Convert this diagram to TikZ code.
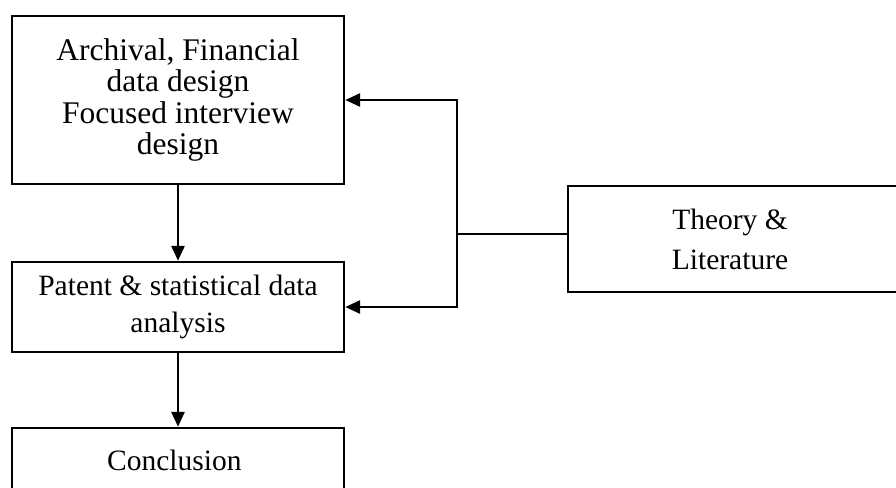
\documentclass[tikz,border=0pt]{standalone}
\usepackage{fontspec}
\setmainfont{Liberation Serif}
\usetikzlibrary{arrows.meta, positioning, calc}

\begin{document}
\begin{tikzpicture}[x=1pt, y=-1pt,
  box/.style={draw, line width=2.4pt, minimum width=332pt, align=center, inner sep=0pt},
  flow/.style={-{Triangle[length=15pt, width=13pt]}, line width=2.8pt},
  link/.style={line width=2.8pt}
]
  % Page frame
  \clip (0,0) rectangle (896,487);

  % Left column
  \node[box, minimum height=168pt, font=\fontsize{31.5}{31.5}\selectfont] (design) at (178, 100) {
    Archival, Financial\\data design\\Focused interview\\design
  };
  \node[box, minimum height=90pt, font=\fontsize{29.5}{37}\selectfont] (analysis) at (178, 307) {
    Patent \& statistical data\\analysis
  };
  \node[box, minimum height=64pt, font=\fontsize{29.5}{37}\selectfont] (conclusion) at (178, 460) {
    Conclusion
  };

  % Theory box
  \node[box, minimum height=106pt, font=\fontsize{29.5}{40}\selectfont] (theory) at (734, 239) {
    \hspace*{-8pt}Theory \&\\\hspace*{-8pt}Literature
  };

  \draw[flow] (design) -- (analysis);
  \draw[flow] (analysis) -- (conclusion);

  % Feedback from theory
  \coordinate (junc) at (457, 234);
  \draw[link] (junc -| theory.west) -- (junc);
  \draw[flow] (junc) |- (design.east);
  \draw[flow] (junc) |- (analysis.east);
\end{tikzpicture}
\end{document}
